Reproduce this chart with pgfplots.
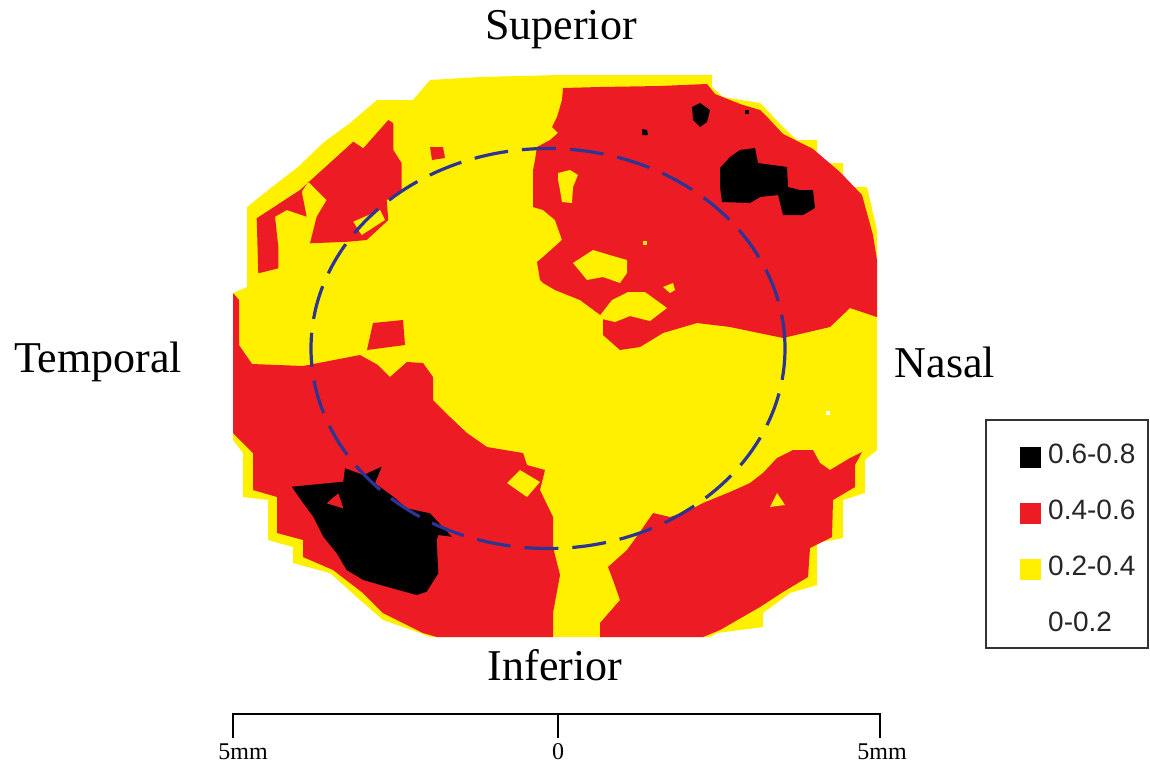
\documentclass[border=0pt]{standalone}
\usepackage{pgfplots}
\pgfplotsset{compat=1.18}
\usepackage{fontspec}
\setmainfont{Liberation Serif}
\newfontfamily\arial{Liberation Sans}
\definecolor{mred}{RGB}{237,28,36}
\definecolor{myel}{RGB}{255,240,0}
\definecolor{mblue}{RGB}{46,52,146}
\begin{document}
\begin{tikzpicture}
\begin{axis}[x=0.5pt, y=0.5pt, y dir=reverse,
  xmin=0, xmax=1150, ymin=0, ymax=765,
  hide axis, clip=false,
  legend cell align=left,
  legend style={at={(axis cs:1020,443)}, anchor=north west, draw=none, fill=none,
    inner sep=0pt, row sep=14pt,
    nodes={inner sep=0pt, text height=10pt, text depth=4pt, font=\arial\fontsize{14}{16}\selectfont, text=black!85}},
  /tikz/every odd column/.append style={column sep=3.5pt},
]
% bounding box
\addplot[draw=none, forget plot] coordinates {(0,0) (1150,765)};
% outer yellow disc
\addplot[fill=myel, draw=none, forget plot] coordinates {
(377,100)(413,100)(430,80)(480,77)(560,75)(712,75)(712,87)(723,97)(760,103)(767,110)(783,127)(797,140)(817,140)(817,163)(843,163)(843,187)(867,187)(877,230)(877,450)(865,460)(865,493)(843,500)(843,538)(817,543)(817,585)(790,593)(763,613)(763,627)(717,633)(710,637)(430,637)(420,633)(383,620)(360,600)(330,573)(293,563)(293,547)(268,540)(268,500)(243,497)(243,453)(233,440)(233,293)(247,287)(247,207)(272,187)(298,167)(323,143)(350,123)};
% red A (upper right)
\addplot[fill=mred, draw=none, forget plot] coordinates {
(563,88)(600,87)(660,86)(707,84)(715,94)(740,104)(760,110)(770,120)(783,134)(813,149)(840,172)(862,195)(873,235)(877,260)(877,317)(850,308)(830,327)(783,338)(730,327)(697,323)(663,333)(640,347)(620,350)(603,335)(603,317)(580,300)(555,290)(543,283)(540,280)(537,262)(543,257)(562,240)(555,220)(543,210)(533,207)(533,170)(535,160)(537,147)(550,140)(558,133)(552,127)(557,117)(562,100)};
% yellow islands in A
\addplot[fill=myel, draw=none, forget plot] coordinates {(573,263)(593,250)(613,256)(627,260)(627,273)(620,283)(603,277)(587,280)};
\addplot[fill=myel, draw=none, forget plot] coordinates {(598,318)(612,300)(628,292)(645,292)(667,308)(650,321)(630,316)(615,322)};
\addplot[fill=myel, draw=none, forget plot] coordinates {(663,287)(673,283)(675,290)(670,293)};
\addplot[fill=myel, draw=none, forget plot] coordinates {(558,173)(570,170)(578,175)(573,187)(572,203)(562,202)(560,190)(558,180)};
\addplot[fill=myel, draw=none, forget plot] coordinates {(643,241)(647,241)(647,245)(643,245)};
% black in A
\addplot[fill=black, draw=none, forget plot] coordinates {
(720,168)(730,157)(740,150)(755,148)(758,163)(787,167)(788,187)(800,190)(813,190)(815,208)(803,215)(783,215)(778,195)(760,197)(750,203)(722,202)(720,187)};
\addplot[fill=black, draw=none, forget plot] coordinates {(692,107)(700,103)(710,110)(707,122)(700,127)(693,120)};
\addplot[fill=black, draw=none, forget plot] coordinates {(642,129)(647,130)(648,135)(642,135)};
\addplot[fill=black, draw=none, forget plot] coordinates {(745,110)(749,110)(749,114)(745,114)};
% red C (upper left)
\addplot[fill=mred, draw=none, forget plot] coordinates {
(256.7,218.3)(300,190)(353.3,141.7)(363.3,148.3)(388.3,120)(393.3,123.3)(393.3,150)(401.7,163.3)(401.7,190)(386.7,200)(388.3,220)(366.7,240)(348.3,241.7)(310,243.3)(316.7,216.7)(326.7,200)(308.3,181.7)(301.7,191.7)(306.7,216.7)(286.7,210)(275,216.7)(278.3,246.7)(278.3,268.3)(258.3,273.3)};
\addplot[fill=myel, draw=none, forget plot] coordinates {(353.3,221.7)(380,210)(385,220)(361.7,235)};
\addplot[fill=mred, draw=none, forget plot] coordinates {(430,147)(443,147)(445,158)(432,160)};
\addplot[fill=mred, draw=none, forget plot] coordinates {(373,323)(403,320)(405,345)(367,350)};
% red D (lower left)
\addplot[fill=mred, draw=none, forget plot] coordinates {
(233,293)(239,300)(239,345)(252,364)(303,366)(360,355)(378,365)(390,377)(407,362)(423,363)(433,377)(433,400)(450,417)(467,433)(487,447)(523,453)(527,465)(545,470)(540,490)(553,517)(553,547)(560,575)(553,613)(553,637)(437,637)(423,633)(383,613)(363,593)(333,570)(303,557)(303,540)(277,533)(277,497)(253,490)(253,453)(233,433)};
\addplot[fill=myel, draw=none, forget plot] coordinates {(507,483)(520,470)(540,482)(527,497)};
% black E
\addplot[fill=black, draw=none, forget plot] coordinates {
(291.7,486.7)(343.3,481.7)(345,468.3)(363.3,475)(381.7,466.7)(375,483.3)(393.3,496.7)(406.7,508.3)(430,513.3)(451.7,536.7)(438.3,535)(436.7,540)(438.3,573.3)(426.7,591.7)(416.7,595)(386.7,586.7)(363.3,580)(346.7,570)(336.7,553.3)(323.3,536.7)(313.3,516.7)(303.3,503.3)};
\addplot[fill=mred, draw=none, forget plot] coordinates {(326.7,503.3)(338.3,493.3)(343.3,508.3)};
% red F (lower right)
\addplot[fill=mred, draw=none, forget plot] coordinates {
(608,567)(627,550)(640,532)(653,513)(670,517)(690,510)(703,503)(730,492)(750,483)(763,473)(777,458)(793,450)(813,450)(820,463)(830,470)(850,458)(862,452)(855,465)(855,487)(833,500)(832,537)(810,548)(808,577)(783,592)(760,607)(720,630)(703,637)(600,637)(600,623)(620,600)(613,580)};
\addplot[fill=myel, draw=none, forget plot] coordinates {(770,507)(777,493)(785,505)};
\addplot[fill=white, draw=none, forget plot] coordinates {(826,411)(830,411)(830,415)(826,415)};
% dashed circle
\draw[mblue, line width=1.6pt, dash pattern=on 17pt off 7pt] (axis cs:548,348.5) ellipse [x radius=118.5pt, y radius=100pt];
% scale bar
\addplot[black, line width=0.8pt, forget plot] coordinates {(233,738)(233,714)(880,714)(880,738)};
\addplot[black, line width=0.8pt, forget plot] coordinates {(558,714)(558,738)};
% labels
\node[font=\fontsize{22}{26}\selectfont] at (axis cs:561,30) {Superior};
\node[font=\fontsize{22}{26}\selectfont] at (axis cs:555,665) {Inferior};
\node[font=\fontsize{22}{26}\selectfont] at (axis cs:98,362) {Temporal};
\node[font=\fontsize{22}{26}\selectfont] at (axis cs:945,362) {Nasal};
\node[font=\fontsize{12}{14}\selectfont] at (axis cs:243,752) {5mm};
\node[font=\fontsize{12}{14}\selectfont] at (axis cs:558,752) {0};
\node[font=\fontsize{12}{14}\selectfont] at (axis cs:882,752) {5mm};
% legend frame
\draw[black!80, line width=0.75pt] (axis cs:986,420) rectangle (axis cs:1148,648);
\addlegendimage{legend image code/.code={\fill[black] (0pt,-5pt) rectangle (10pt,5pt);}}
\addlegendimage{legend image code/.code={\fill[mred] (0pt,-5pt) rectangle (10pt,5pt);}}
\addlegendimage{legend image code/.code={\fill[myel] (0pt,-5pt) rectangle (10pt,5pt);}}
\addlegendimage{legend image code/.code={\fill[white] (0pt,-5pt) rectangle (10pt,5pt);}}
\legend{0.6-0.8,0.4-0.6,0.2-0.4,0-0.2}
\end{axis}
\end{tikzpicture}
\end{document}
